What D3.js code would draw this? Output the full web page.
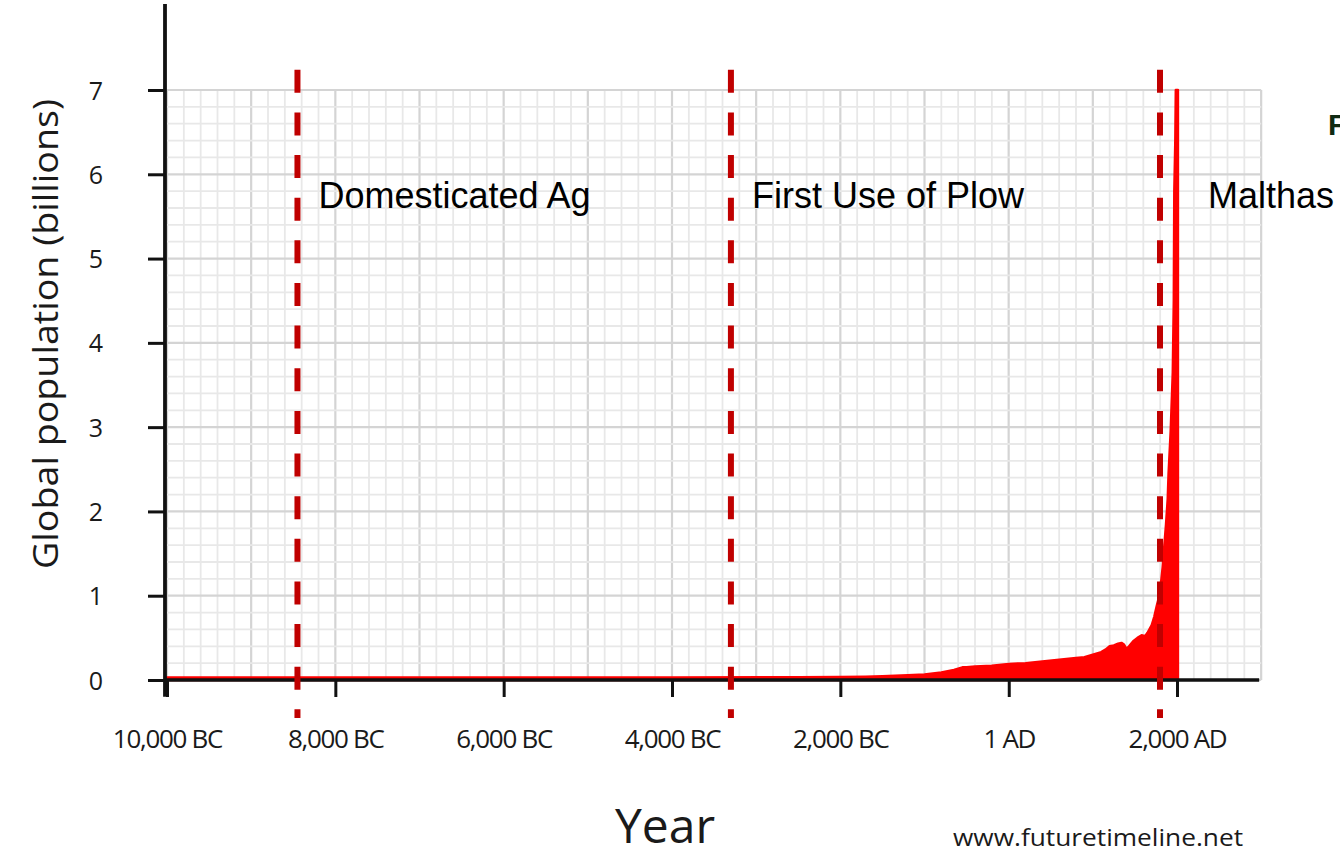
<!DOCTYPE html>
<html>
<head>
<meta charset="utf-8">
<script src="https://cdn.jsdelivr.net/npm/d3@7"></script>
<style>
  html, body { margin: 0; padding: 0; background: #ffffff; }
  svg { display: block; }
</style>
</head>
<body>
<svg id="chart" width="1340" height="857"></svg>
<script>
// ---------------- data ----------------
const years = [-10000, -8000, -6000, -4000, -2500, -2000, -1700, -1500, -1200, -1000, -800, -650, -550, -500, -400, -200, 1,
  200, 400, 600, 800, 900, 1000, 1100, 1150, 1200, 1250, 1300, 1340, 1370, 1400, 1430, 1480, 1530, 1580, 1620, 1650,
  1700, 1730, 1760, 1790, 1810, 1830, 1850, 1870, 1890, 1900, 1925, 1950, 1962, 1968, 1980, 1986, 2011];
const population = [0.03, 0.03, 0.03, 0.03, 0.032, 0.035, 0.04, 0.045, 0.055, 0.065, 0.09, 0.12, 0.15, 0.15, 0.16, 0.17, 0.19,
  0.2, 0.22, 0.24, 0.26, 0.27, 0.3, 0.33, 0.36, 0.4, 0.41, 0.43, 0.44, 0.42, 0.37, 0.4, 0.46, 0.5, 0.53, 0.52, 0.56,
  0.65, 0.75, 0.88, 1.0, 1.15, 1.34, 1.6, 1.85, 2.15, 2.45, 2.95, 3.65, 4.5, 5.8, 6.4, 7.0, 7.0];

const xTickValues = [-10000, -8000, -6000, -4000, -2000, 1, 2000];
const xTickLabels = ["10,000 BC", "8,000 BC", "6,000 BC", "4,000 BC", "2,000 BC", "1 AD", "2,000 AD"];
const yTickValues = [0, 1, 2, 3, 4, 5, 6, 7];

const eventYears = [-8450, -3300, 1798];
const eventLabels = ["Domesticated Ag", "First Use of Plow", "Malthas"];

const yTitle = "Global population (billions)";
const xTitle = "Year";
const sourceText = "www.futuretimeline.net";
const cornerText = "F";

// ---------------- layout ----------------
const eventLabelDx = [21, 21, 48];

const svg = d3.select("#chart");
const x = d3.scaleLinear().domain([-10000, 2000]).range([167, 1177]);
const y = d3.scaleLinear().domain([0, 7]).range([680, 90]);

svg.append("rect").attr("width", 1340).attr("height", 857).attr("fill", "#ffffff");

// grid
const gridX0 = -10000, gridX1 = 3000;
const grid = svg.append("g");
const vLines = d3.range(gridX0, gridX1 + 1, 200);
const hLines = d3.range(0, 7.0001, 0.2).map(v => Math.round(v * 10) / 10);
grid.selectAll("line.v").data(vLines).join("line")
  .attr("x1", d => x(d)).attr("x2", d => x(d))
  .attr("y1", y(0)).attr("y2", y(7))
  .attr("stroke", d => d % 1000 === 0 ? "#d4d4d4" : "#e8e8e8")
  .attr("stroke-width", d => d % 1000 === 0 ? 2.2 : 1.8);
grid.selectAll("line.h").data(hLines).join("line")
  .attr("x1", x(gridX0)).attr("x2", x(gridX1))
  .attr("y1", d => y(d)).attr("y2", d => y(d))
  .attr("stroke", d => Math.abs(d - Math.round(d)) < 1e-6 ? "#d4d4d4" : "#e8e8e8")
  .attr("stroke-width", d => Math.abs(d - Math.round(d)) < 1e-6 ? 2.2 : 1.8);

// area
const series = years.map((yr, i) => ({ year: yr, value: population[i] }));
const area = d3.area().x(d => x(d.year)).y0(y(0)).y1(d => y(d.value));
svg.append("path").datum(series)
  .attr("d", area)
  .attr("fill", "#ff0000")
  .attr("stroke", "#ff0000")
  .attr("stroke-width", 2.5)
  .attr("stroke-linejoin", "round");

// axes
const axisColor = "#111111";
svg.append("line")
  .attr("x1", x(-10000) - 2).attr("x2", x(gridX1) - 2)
  .attr("y1", y(0)).attr("y2", y(0))
  .attr("stroke", axisColor).attr("stroke-width", 3.5);
svg.append("line")
  .attr("x1", x(-10000) - 2).attr("x2", x(-10000) - 2)
  .attr("y1", y(8.02)).attr("y2", y(-0.2))
  .attr("stroke", axisColor).attr("stroke-width", 3.8);

const xAxis = d3.axisBottom(x).tickValues(xTickValues)
  .tickFormat((d, i) => xTickLabels[i]).tickSize(17).tickSizeOuter(0);
const gx = svg.append("g").attr("transform", `translate(0,${y(0)})`).call(xAxis);
gx.select(".domain").remove();
gx.selectAll(".tick line").attr("stroke", axisColor).attr("stroke-width", 3);
gx.selectAll(".tick text")
  .attr("y", 68).attr("dy", 0)
  .attr("fill", "#1a1a1a")
  .style("font-family", "'Open Sans', sans-serif")
  .style("font-size", "26px")
  .style("letter-spacing", "-1.3px");

const yAxis = d3.axisLeft(y).tickValues(yTickValues).tickFormat(d3.format("d"))
  .tickSize(17).tickSizeOuter(0);
const gy = svg.append("g").attr("transform", `translate(${x(-10000) - 2},0)`).call(yAxis);
gy.select(".domain").remove();
gy.selectAll(".tick line").attr("stroke", axisColor).attr("stroke-width", 3);
gy.selectAll(".tick text")
  .attr("x", -62).attr("dy", "0.36em")
  .attr("fill", "#1a1a1a")
  .style("font-family", "'Open Sans', sans-serif")
  .style("font-size", "25px");

// event lines
svg.selectAll("line.event").data(eventYears).join("line")
  .attr("x1", d => x(d)).attr("x2", d => x(d))
  .attr("y1", y(7.24)).attr("y2", y(-0.45))
  .attr("stroke", "#c00000")
  .attr("stroke-width", 6)
  .attr("stroke-dasharray", "23 19.64");

svg.selectAll("text.event").data(eventYears).join("text")
  .attr("x", (d, i) => x(d) + eventLabelDx[i])
  .attr("y", 208)
  .attr("fill", "#000000")
  .style("font-family", "'Liberation Sans', Arial, sans-serif")
  .style("font-size", "36px")
  .text((d, i) => eventLabels[i]);

// titles
svg.append("text")
  .attr("transform", "translate(58,334) rotate(-90)")
  .attr("text-anchor", "middle")
  .attr("fill", "#1a1a1a")
  .style("font-family", "'Open Sans', sans-serif")
  .style("font-size", "35px")
  .attr("textLength", 470)
  .attr("lengthAdjust", "spacingAndGlyphs")
  .text(yTitle);

svg.append("text")
  .attr("x", 665).attr("y", 843)
  .attr("text-anchor", "middle")
  .attr("fill", "#1a1a1a")
  .style("font-family", "'Open Sans', sans-serif")
  .style("font-size", "48px")
  .text(xTitle);

svg.append("text")
  .attr("x", 953).attr("y", 846)
  .attr("fill", "#1a1a1a")
  .style("font-family", "'Open Sans', sans-serif")
  .style("font-size", "24px")
  .attr("textLength", 290)
  .attr("lengthAdjust", "spacingAndGlyphs")
  .text(sourceText);

svg.append("text")
  .attr("x", 1328).attr("y", 135)
  .attr("fill", "#0f2a12")
  .style("font-family", "'Liberation Sans', Arial, sans-serif")
  .style("font-weight", "bold")
  .style("font-size", "30px")
  .text(cornerText);
</script>
</body>
</html>
